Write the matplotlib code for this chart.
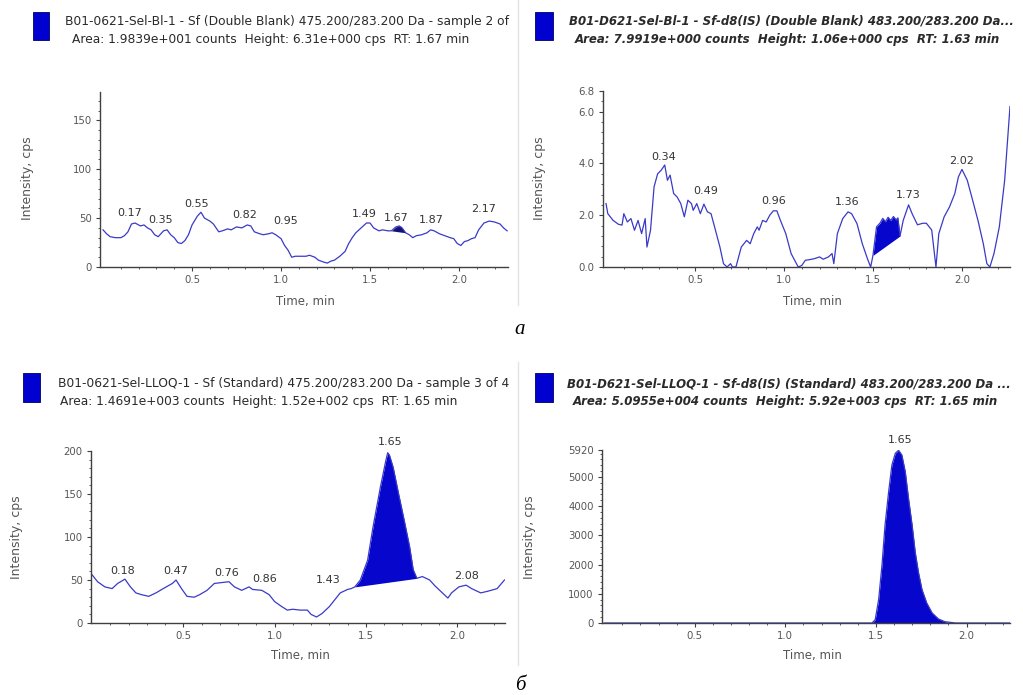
import numpy as np
import matplotlib
matplotlib.use("Agg")
import matplotlib.pyplot as plt
from matplotlib.patches import Rectangle
from matplotlib.lines import Line2D

W, H = 1023, 695

# --- panel a, left: analyte, double blank ---
t1 = [0.00, 0.02, 0.04, 0.07, 0.10, 0.12, 0.14, 0.16, 0.18, 0.21,
      0.23, 0.25, 0.27, 0.29, 0.31, 0.34, 0.36, 0.38, 0.40, 0.42,
      0.44, 0.46, 0.48, 0.50, 0.53, 0.55, 0.57, 0.60, 0.62, 0.65,
      0.67, 0.70, 0.72, 0.75, 0.78, 0.81, 0.83, 0.85, 0.88, 0.90,
      0.93, 0.95, 0.97, 1.00, 1.02, 1.04, 1.06, 1.08, 1.11, 1.14,
      1.16, 1.19, 1.21, 1.24, 1.26, 1.28, 1.30, 1.33, 1.36, 1.38,
      1.40, 1.42, 1.45, 1.48, 1.50, 1.52, 1.55, 1.57, 1.60, 1.62,
      1.645, 1.665, 1.68, 1.70, 1.72, 1.74, 1.76, 1.79, 1.82, 1.84,
      1.86, 1.89, 1.92, 1.95, 1.97, 1.99, 2.01, 2.03, 2.05, 2.07,
      2.09, 2.11, 2.14, 2.17, 2.20, 2.23, 2.25, 2.27]
v1 = [38, 34, 31, 30, 30, 32, 36, 44, 45, 42,
      43, 40, 38, 33, 31, 37, 38, 33, 30, 25,
      24, 27, 33, 43, 52, 56, 50, 47, 44, 36,
      37, 39, 38, 41, 40, 43, 42, 36, 34, 33,
      34, 35, 33, 29, 22, 17, 10, 11, 11, 11,
      12, 10, 7, 5, 4, 6, 7, 11, 16, 24,
      30, 35, 40, 45, 45, 40, 37, 38, 37, 37,
      41, 42, 40, 35, 33, 30, 32, 33, 35, 38,
      37, 34, 32, 30, 29, 24, 22, 26, 27, 29,
      30, 38, 45, 47, 46, 44, 40, 37]
peak1 = (1.62, 1.70)
lab1 = ["0.17", "0.35", "0.55", "0.82", "0.95", "1.49", "1.67", "1.87", "2.17"]
lab1_t = [0.151, 0.326, 0.528, 0.795, 1.028, 1.47, 1.647, 1.843, 2.14]
lab1_v = [55, 48, 64, 53, 47, 54, 50, 48, 59]

# --- panel a, right: internal standard, double blank ---
t2 = [0.00, 0.01, 0.04, 0.07, 0.09, 0.10, 0.12, 0.14, 0.16, 0.18,
      0.20, 0.22, 0.23, 0.25, 0.27, 0.29, 0.31, 0.33, 0.345, 0.36,
      0.38, 0.40, 0.42, 0.44, 0.46, 0.48, 0.49, 0.51, 0.53, 0.55,
      0.57, 0.59, 0.61, 0.64, 0.66, 0.68, 0.70, 0.71, 0.73, 0.76,
      0.79, 0.81, 0.83, 0.85, 0.86, 0.88, 0.90, 0.92, 0.94, 0.96,
      0.98, 1.01, 1.04, 1.06, 1.08, 1.10, 1.12, 1.14, 1.17, 1.20,
      1.22, 1.25, 1.27, 1.28, 1.30, 1.33, 1.36, 1.38, 1.41, 1.44,
      1.47, 1.487, 1.50, 1.52, 1.54, 1.555, 1.57, 1.585, 1.60, 1.615,
      1.63, 1.64, 1.652, 1.67, 1.69, 1.70, 1.72, 1.75, 1.78, 1.80,
      1.83, 1.854, 1.87, 1.90, 1.93, 1.96, 1.98, 2.00, 2.03, 2.06,
      2.09, 2.12, 2.14, 2.157, 2.18, 2.21, 2.24, 2.27]
v2 = [2.45, 2.06, 1.80, 1.65, 1.62, 2.06, 1.74, 1.87, 1.42, 1.80,
      1.29, 1.87, 0.77, 1.42, 3.10, 3.60, 3.74, 3.94, 3.35, 3.55,
      2.84, 2.70, 2.45, 1.94, 2.58, 2.45, 2.19, 2.45, 2.06, 2.43,
      2.13, 2.06, 1.55, 0.77, 0.13, 0.00, 0.13, 0.00, 0.00, 0.77,
      1.03, 0.90, 1.29, 1.55, 1.42, 1.80, 1.74, 2.00, 2.17, 2.17,
      1.80, 1.29, 0.52, 0.26, 0.00, 0.06, 0.26, 0.28, 0.32, 0.39,
      0.30, 0.39, 0.52, 0.13, 1.29, 1.87, 2.13, 2.06, 1.68, 0.90,
      0.30, 0.00, 0.45, 1.55, 1.70, 1.88, 1.75, 1.92, 1.80, 1.95,
      1.82, 1.90, 1.20, 1.80, 2.20, 2.40, 2.06, 1.63, 1.69, 1.69,
      1.43, 0.00, 1.29, 1.94, 2.32, 2.84, 3.48, 3.77, 3.35, 2.58,
      1.80, 0.90, 0.13, 0.00, 0.52, 1.55, 3.35, 6.20]
peak2 = (1.50, 1.652)
lab2 = ["0.34", "0.49", "0.96", "1.36", "1.73", "2.02"]
lab2_t = [0.326, 0.56, 0.944, 1.356, 1.70, 2.0]
lab2_v = [4.26, 2.94, 2.55, 2.52, 2.77, 4.1]

# --- panel б, left: analyte, LLOQ ---
t3 = [0.00, 0.03, 0.07, 0.11, 0.14, 0.18, 0.21, 0.24, 0.27, 0.31,
      0.35, 0.39, 0.44, 0.46, 0.49, 0.52, 0.56, 0.59, 0.63, 0.67,
      0.71, 0.75, 0.78, 0.82, 0.86, 0.88, 0.93, 0.97, 1.00, 1.04,
      1.07, 1.10, 1.14, 1.18, 1.20, 1.23, 1.26, 1.30, 1.33, 1.36,
      1.40, 1.42, 1.44, 1.47, 1.51, 1.54, 1.58, 1.61, 1.62, 1.63,
      1.65, 1.68, 1.71, 1.74, 1.76, 1.78, 1.81, 1.85, 1.88, 1.92,
      1.95, 1.97, 2.01, 2.05, 2.08, 2.13, 2.17, 2.22, 2.26]
v3 = [56, 48, 42, 40, 46, 51, 42, 35, 33, 31,
      35, 40, 46, 50, 40, 31, 30, 33, 38, 46,
      47, 48, 42, 38, 42, 39, 38, 33, 25, 19,
      15, 16, 15, 15, 10, 7, 11, 19, 27, 35,
      39, 40, 42, 50, 73, 112, 158, 189, 198, 195,
      181, 150, 120, 89, 62, 52, 54, 50, 43, 35,
      29, 35, 42, 44, 40, 35, 37, 40, 50]
peak3 = (1.44, 1.78)
lab3 = ["0.18", "0.47", "0.76", "0.86", "1.43", "1.65", "2.08"]
lab3_t = [0.17, 0.46, 0.738, 0.948, 1.296, 1.634, 2.055]
lab3_v = [61, 60, 58, 51, 50, 210, 55]

# --- panel б, right: internal standard, LLOQ ---
t4 = [0.00, 0.50, 1.00, 1.40, 1.478, 1.496, 1.515, 1.533, 1.55, 1.57,
      1.588, 1.607, 1.625, 1.643, 1.662, 1.68, 1.70, 1.717, 1.735, 1.754,
      1.78, 1.81, 1.845, 1.88, 1.94, 2.00, 2.24]
v4 = [0, 0, 0, 0, 0, 115, 805, 1955, 3335, 4485,
      5405, 5808, 5911, 5750, 5175, 4255, 3335, 2415, 1725, 1150,
      690, 345, 138, 46, 0, 0, 0]
peak4 = (1.478, 1.94)
lab4 = ["1.65"]
lab4_t = [1.634]
lab4_v = [6270]

titles = [
    ("B01-0621-Sel-Bl-1 - Sf (Double Blank) 475.200/283.200 Da - sample 2 of",
     "Area: 1.9839e+001 counts  Height: 6.31e+000 cps  RT: 1.67 min"),
    ("B01-D621-Sel-Bl-1 - Sf-d8(IS) (Double Blank) 483.200/283.200 Da...",
     "Area: 7.9919e+000 counts  Height: 1.06e+000 cps  RT: 1.63 min"),
    ("B01-0621-Sel-LLOQ-1 - Sf (Standard) 475.200/283.200 Da - sample 3 of 4",
     "Area: 1.4691e+003 counts  Height: 1.52e+002 cps  RT: 1.65 min"),
    ("B01-D621-Sel-LLOQ-1 - Sf-d8(IS) (Standard) 483.200/283.200 Da ...",
     "Area: 5.0955e+004 counts  Height: 5.92e+003 cps  RT: 1.65 min"),
]

LINE = "#3a3ac8"
FILL = "#0606cc"

fig = plt.figure(figsize=(W / 100, H / 100), dpi=100)


def box(l, r, top, bot):
    return [l / W, 1 - bot / H, (r - l) / W, (bot - top) / H]


def panel(rect, t, v, peak, fill_col, labels, lt, lv, xlim, ylim, yticks,
          ylabs, minor_y):
    ax = fig.add_axes(rect)
    t = np.array(t)
    v = np.array(v, dtype=float)
    ax.plot(t, v, color=LINE, lw=0.9)
    # integrated peak: area between curve and straight baseline
    m = (t >= peak[0]) & (t <= peak[1])
    base = np.interp(t[m], [t[m][0], t[m][-1]], [v[m][0], v[m][-1]])
    ax.fill_between(t[m], base, v[m], color=fill_col, lw=0)
    for s, x, y in zip(labels, lt, lv):
        ax.text(x, y, s, ha="center", va="center", fontsize=8, color="#333333",
                clip_on=False)
    ax.set_xlim(*xlim)
    ax.set_ylim(*ylim)
    ax.set_xticks([0.5, 1.0, 1.5, 2.0])
    ax.set_xticklabels(["0.5", "1.0", "1.5", "2.0"])
    ax.set_xticks(np.arange(0.1, 2.3, 0.1), minor=True)
    ax.set_yticks(yticks)
    ax.set_yticklabels(ylabs)
    ax.set_yticks(minor_y, minor=True)
    for s in ["top", "right"]:
        ax.spines[s].set_visible(False)
    for s in ["left", "bottom"]:
        ax.spines[s].set_color("#404040")
        ax.spines[s].set_linewidth(1.0)
    ax.tick_params(which="major", length=3, width=0.8, color="#404040",
                   labelsize=7.3, labelcolor="#555555", pad=3)
    ax.tick_params(which="minor", length=1.5, width=0.6, color="#404040")
    return ax


panel(box(100, 508, 92, 267), t1, v1, peak1, "#121275", lab1, lab1_t, lab1_v,
      (-0.017, 2.275), (0, 179), [0, 50, 100, 150], ["0", "50", "100", "150"],
      np.arange(0, 180, 10))
panel(box(603, 1010, 91, 267), t2, v2, peak2, FILL, lab2, lab2_t, lab2_v,
      (-0.017, 2.27), (0, 6.8), [0, 2, 4, 6, 6.8],
      ["0.0", "2.0", "4.0", "6.0", "6.8"], np.arange(0, 6.8, 0.4))
panel(box(91, 505, 451, 623), t3, v3, peak3, FILL, lab3, lab3_t, lab3_v,
      (-0.006, 2.263), (0, 200), [0, 50, 100, 150, 200],
      ["0", "50", "100", "150", "200"], np.arange(0, 200, 10))
panel(box(602, 1010, 450, 623), t4, v4, peak4, FILL, lab4, lab4_t, lab4_v,
      (-0.012, 2.24), (0, 5920), [0, 1000, 2000, 3000, 4000, 5000, 5920],
      ["0", "1000", "2000", "3000", "4000", "5000", "5920"],
      np.arange(0, 5920, 200))

# headers: coloured square + two text lines
heads = [
    ((33, 49, 12, 40), (65, 21), (72, 39), False),
    ((535, 553, 12, 40), (569, 21), (575, 39), True),
    ((23, 40, 373, 402), (58, 384), (60, 401), False),
    ((535, 553, 373, 402), (567, 384), (573, 401), True),
]
for (sq, p1, p2, bold), (l1, l2) in zip(heads, titles):
    fig.patches.append(Rectangle((sq[0] / W, 1 - sq[3] / H),
                                 (sq[1] - sq[0]) / W, (sq[3] - sq[2]) / H,
                                 transform=fig.transFigure, facecolor="#0000d0",
                                 edgecolor="#000060", lw=0.6))
    kw = dict(fontsize=8.8, color="#2a2a2a", va="center", ha="left")
    if bold:
        kw.update(fontweight="bold", fontstyle="italic", fontsize=8.5)
    fig.text(p1[0] / W, 1 - p1[1] / H, l1, **kw)
    fig.text(p2[0] / W, 1 - p2[1] / H, l2, **kw)

# axis titles
for x, y in [(28, 178), (540, 178), (17, 537), (529, 537)]:
    fig.text(x / W, 1 - y / H, "Intensity, cps", rotation=90, ha="center",
             va="center", fontsize=9, color="#555555")
for x, y in [(305, 302), (812, 302), (300, 655), (812, 655)]:
    fig.text(x / W, 1 - y / H, "Time, min", ha="center", va="center",
             fontsize=8.5, color="#555555")

# faint separators between the screenshots
for y0, y1 in [(0, 305), (362, 665)]:
    fig.lines.append(Line2D([518 / W, 518 / W], [1 - y0 / H, 1 - y1 / H],
                            transform=fig.transFigure, color="#e4e4e4", lw=1))

fig.text(520 / W, 1 - 329 / H, "a", family="Liberation Serif", style="italic",
         fontsize=15, ha="center", va="center")
fig.text(520 / W, 1 - 685 / H, "б", family="Liberation Serif", style="italic",
         fontsize=15, ha="center", va="center")

fig.savefig("out.png", dpi=100)
